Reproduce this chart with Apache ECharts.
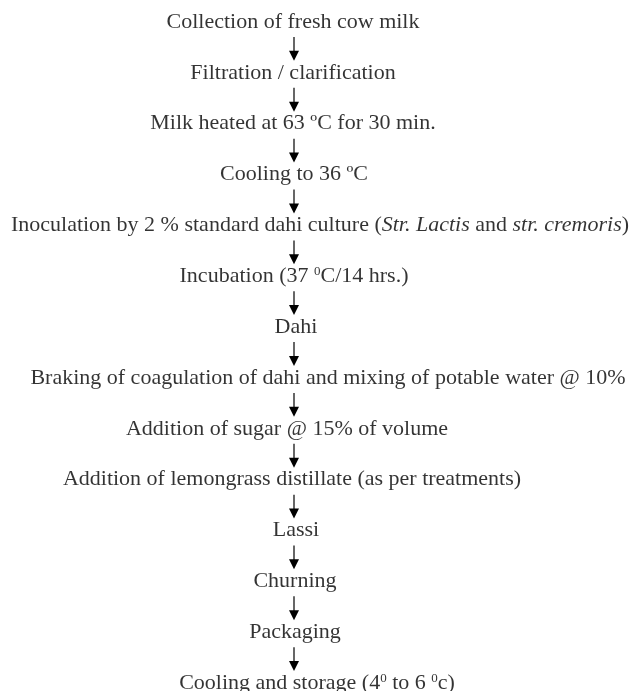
<!DOCTYPE html>
<html>
<head>
<meta charset="utf-8">
<script src="https://cdn.jsdelivr.net/npm/echarts@6/dist/echarts.min.js"></script>
<style>
  html, body { margin: 0; padding: 0; background: #fff; }
  #main { width: 634px; height: 691px; }
</style>
</head>
<body>
<div id="main"></div>
<script>
  // process steps, top to bottom (rich text: n = normal, i = italic, sup = superscript)
  var steps = [
    '{n|Collection of fresh cow milk}',
    '{n|Filtration / clarification}',
    '{n|Milk heated at 63 ºC for 30 min.}',
    '{n|Cooling to 36 ºC}',
    '{n|Inoculation by 2 % standard dahi culture (}{i|Str. Lactis}{n| and }{i|str. cremoris}{n|)}',
    '{n|Incubation (37 }{sup|0}{n|C/14 hrs.)}',
    '{n|Dahi}',
    '{n|Braking of coagulation of dahi and mixing of potable water @ 10%}',
    '{n|Addition of sugar @ 15% of volume}',
    '{n|Addition of lemongrass distillate (as per treatments)}',
    '{n|Lassi}',
    '{n|Churning}',
    '{n|Packaging}',
    '{n|Cooling and storage (4}{sup|0}{n| to 6 }{sup|0}{n|c)}'
  ]
  // horizontal centre of each label
  var stepCenterX = [293, 293, 293, 294, 320, 294, 296, 328, 287, 292, 296, 295, 295, 317]
  var arrowX = 294

  var chart = echarts.init(document.getElementById('main'))

  var pointData = steps.map(function (s, i) {
    return [stepCenterX[i], i, s]
  })
  var arrowData = []
  for (var i = 0; i < steps.length - 1; i++) {
    arrowData.push([arrowX, i, i + 1])
  }

  var option = {
    animation: false,
    grid: { left: 0, right: 0, top: 0, bottom: 0 },
    xAxis: { type: 'value', min: 0, max: 634, show: false },
    yAxis: { type: 'value', min: -0.433, max: 13.157, inverse: true, show: false },
    series: [
      {
        type: 'custom',
        data: arrowData,
        renderItem: function (params, api) {
          var p0 = api.coord([api.value(0), api.value(1)])
          var p1 = api.coord([api.value(0), api.value(2)])
          var y0 = p0[1] + 15
          var tip = p1[1] - 12
          var headH = 10
          var headW = 5
          return {
            type: 'group',
            children: [
              {
                type: 'line',
                shape: { x1: p0[0], y1: y0, x2: p0[0], y2: tip - headH + 1 },
                style: { stroke: '#000', lineWidth: 1.2 }
              },
              {
                type: 'polygon',
                shape: {
                  points: [
                    [p0[0] - headW, tip - headH],
                    [p0[0] + headW, tip - headH],
                    [p0[0], tip]
                  ]
                },
                style: { fill: '#000' }
              }
            ]
          }
        }
      },
      {
        type: 'scatter',
        symbolSize: 0,
        data: pointData,
        label: {
          show: true,
          position: 'inside',
          align: 'center',
          verticalAlign: 'middle',
          color: '#000',
          textBorderWidth: 0,
          textBorderColor: 'transparent',
          formatter: function (p) {
            return p.value[2]
          },
          rich: {
            n: { fontFamily: 'Liberation Serif', fontSize: 22, color: '#000', lineHeight: 26 },
            i: { fontFamily: 'Liberation Serif', fontSize: 22, fontStyle: 'italic', color: '#000', lineHeight: 26 },
            sup: { fontFamily: 'Liberation Serif', fontSize: 13, color: '#000', lineHeight: 26, verticalAlign: 'top', padding: [2, 0, 0, 0] }
          }
        },
        emphasis: { disabled: true }
      }
    ]
  }
  chart.setOption(option)
</script>
</body>
</html>
